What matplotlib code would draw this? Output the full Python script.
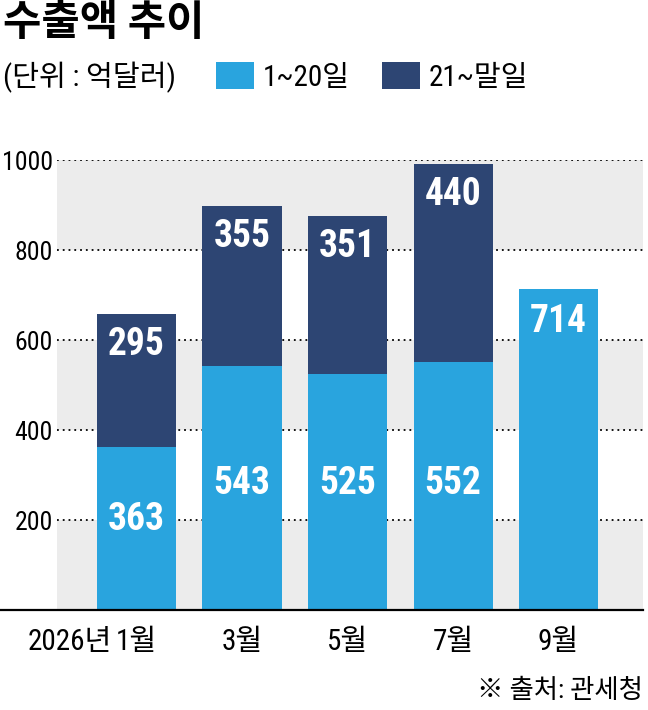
import numpy as np
import matplotlib.pyplot as plt

plt.rcParams['font.family'] = ['Roboto Condensed', 'Noto Sans CJK KR', 'DejaVu Sans']

months = ['1월', '3월', '5월', '7월', '9월']
first_half = [363, 543, 525, 552, 714]      # 1~20일
second_half = [295, 355, 351, 440, 0]       # 21~말일 (9월은 없음)
yticks = [200, 400, 600, 800, 1000]

# label height for the light segment numbers (data units)
low_label_y = [202, 282, 282, 282, 640]

light = '#29a4de'
dark = '#2d4573'
band = '#ececec'

fig = plt.figure(figsize=(6.48, 7.10), dpi=100)
ax = fig.add_axes([57 / 648, 100 / 710, 586 / 648, 450 / 710])

x = np.arange(len(months))
ax.set_xlim(-0.754, 4.80)
ax.set_ylim(0, 1000)

# gray bands
for lo in [0, 400, 800]:
    ax.axhspan(lo, lo + 200, color=band, lw=0, zorder=0)
for t in yticks:
    ax.axhline(t, color='black', lw=1.3, dashes=(1, 2.2), zorder=1)

b1 = ax.bar(x, first_half, width=0.75, color=light, zorder=2, label='1~20일')
has2 = [v > 0 for v in second_half]
b2 = ax.bar(x[has2], np.array(second_half)[has2], width=0.75,
            bottom=np.array(first_half)[has2], color=dark, zorder=2, label='21~말일')

for i in range(len(months)):
    ax.text(x[i], low_label_y[i], str(first_half[i]), ha='center', va='center',
            color='white', fontsize=27, fontweight='bold', zorder=3)
    if second_half[i] > 0:
        ax.annotate(str(second_half[i]), (x[i], first_half[i] + second_half[i]),
                    xytext=(0, -22), textcoords='offset points',
                    ha='center', va='center', color='white', fontsize=27,
                    fontweight='bold', zorder=3)

# baseline running past the axes on the left
ax.axhline(0, xmin=-0.098, xmax=1.0, color='black', lw=1.6, clip_on=False, zorder=4)

for s in ax.spines.values():
    s.set_visible(False)
ax.set_yticks(yticks)
ax.set_yticklabels([str(t) for t in yticks], fontsize=18.5)
ax.set_xticks(x)
ax.set_xticklabels(months, fontsize=21)
ax.tick_params(length=0)
ax.tick_params(axis='y', pad=3)
ax.tick_params(axis='x', pad=13)
ax.annotate('2026년', (0, 0), xycoords=('data', 'axes fraction'),
            xytext=(-18, -13), textcoords='offset points',
            ha='right', va='top', fontsize=21)

fig.text(3 / 648, 1 - 3 / 710, '수출액 추이', fontsize=30, fontweight='bold',
         ha='left', va='top')
fig.text(3 / 648, 1 - 77 / 710, '(단위 : 억달러)', fontsize=21, ha='left', va='center')
fig.legend(handles=[b1, b2], loc='center left', bbox_to_anchor=(216 / 648, 1 - 77 / 710),
           ncol=2, frameon=False, fontsize=21, handlelength=1.3, handleheight=1.0,
           handletextpad=0.3, columnspacing=1.1, borderpad=0, borderaxespad=0)
fig.text(643 / 648, 1 - 691 / 710, '※ 출처: 관세청', fontsize=19, ha='right', va='center')

fig.savefig('out.png', dpi=100)
